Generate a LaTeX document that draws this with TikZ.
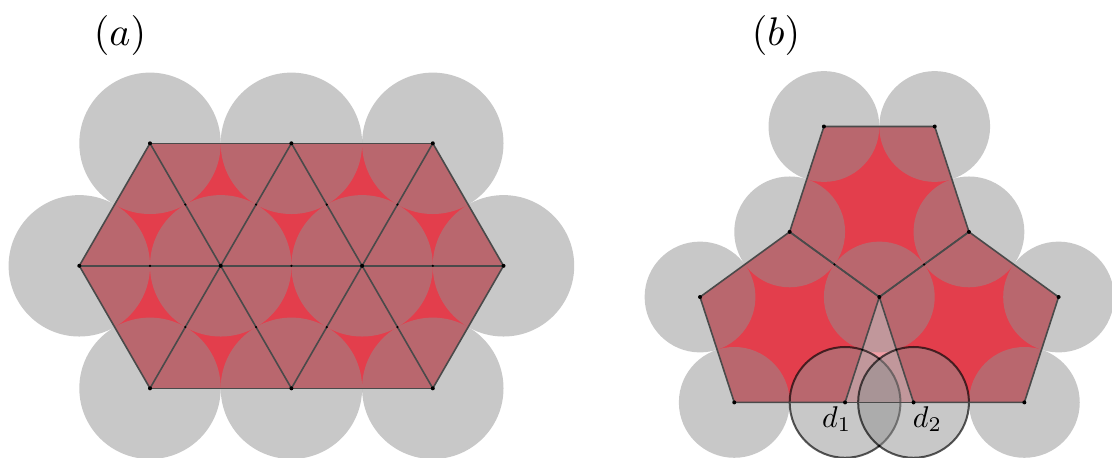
\documentclass[tikz,border=0pt]{standalone}
\usetikzlibrary{calc}
\definecolor{redfill}{HTML}{E33E4C}
\definecolor{diskgrey}{RGB}{145,145,145}
\definecolor{edgec}{HTML}{4A4A4A}
\tikzset{
  cellfill/.style={fill=redfill},
  gapfill/.style={fill=redfill, fill opacity=0.5},
  disk/.style={fill=diskgrey, fill opacity=0.5},
  markdisk/.style={disk, draw=black, draw opacity=0.65, line width=1pt},
  edge/.style={draw=edgec, line width=0.8pt, line join=round},
  vdot/.style={fill=black},
  lbl/.style={scale=1.5, anchor=base, inner sep=0pt},
  title/.style={scale=2, anchor=base, inner sep=0pt},
}
\begin{document}
\begin{tikzpicture}[x=0.5pt,y=-0.5pt]
\useasboundingbox (0,0) rectangle (1112,457);
% ---------- (a) ----------
\coordinate (t1) at (150,143.3);
\coordinate (t2) at (291.4,143.3);
\coordinate (t3) at (432.8,143.3);
\coordinate (m1) at (79.3,265.8);
\coordinate (m2) at (220.7,265.8);
\coordinate (m3) at (362.1,265.8);
\coordinate (m4) at (503.5,265.8);
\coordinate (b1) at (150,388.3);
\coordinate (b2) at (291.4,388.3);
\coordinate (b3) at (432.8,388.3);
\fill[cellfill] (t1)--(t3)--(m4)--(b3)--(b1)--(m1)--cycle;
\foreach \p in {t1,t2,t3,m1,m2,m3,m4,b1,b2,b3}
  \fill[disk] (\p) circle (70.7);
\draw[edge] (t1)--(t3) (m1)--(m4) (b1)--(b3);
\draw[edge] (m1)--(t1)--(m2)--(t2)--(m3)--(t3)--(m4);
\draw[edge] (m1)--(b1)--(m2)--(b2)--(m3)--(b3)--(m4);
\foreach \p in {t1,t2,t3,m1,m2,m3,m4,b1,b2,b3}
  \fill[vdot] (\p) circle (2);
\foreach \p/\q in {t1/m2,m2/t2,t2/m3,m3/t3,m1/m2,m2/m3,m3/m4,b1/m2,m2/b2,b2/m3,m3/b3}
  \fill[vdot] ($(\p)!0.5!(\q)$) circle (1.2);
\node[title] (la) at (120,45) {$(a)$};
% ---------- (b) ----------
\coordinate (C) at (879.3,297);
\coordinate (A1) at (789.66,231.87);
\coordinate (A2) at (968.94,231.87);
\coordinate (T1) at (823.9,126.49);
\coordinate (T2) at (934.7,126.49);
\coordinate (L1) at (700.02,297);
\coordinate (L2) at (734.26,402.38);
\coordinate (D1) at (845.06,402.38);
\coordinate (R1) at (1058.58,297);
\coordinate (R2) at (1024.34,402.38);
\coordinate (D2) at (913.54,402.38);
\coordinate (X1) at (879.3,358.83);
\coordinate (X2) at (879.3,445.93);
\fill[cellfill] (C)--(A1)--(T1)--(T2)--(A2)--cycle;
\fill[cellfill] (C)--(A1)--(L1)--(L2)--(D1)--cycle;
\fill[cellfill] (C)--(A2)--(R1)--(R2)--(D2)--cycle;
\fill[gapfill] (C)--(D1)--(D2)--cycle;
\foreach \p in {C,A1,A2,T1,T2,L1,L2,R1,R2}
  \fill[disk] (\p) circle (55.4);
\path[markdisk] (D1) circle (55.4);
\path[markdisk] (D2) circle (55.4);
\draw[edge] (C)--(A1)--(T1)--(T2)--(A2)--cycle;
\draw[edge] (C)--(A1)--(L1)--(L2)--(D1)--cycle;
\draw[edge] (C)--(A2)--(R1)--(R2)--(D2)--cycle;
\draw[edge] (D1)--(D2);
\foreach \p in {C,A1,A2,T1,T2,L1,L2,D1,R1,R2,D2}
  \fill[vdot] (\p) circle (2);
\foreach \p/\q in {C/A1,C/A2,C/D1,C/D2}
  \fill[vdot] ($(\p)!0.5!(\q)$) circle (1.2);
\fill[vdot] (X1) circle (1.2);
\fill[vdot] (X2) circle (1.2);
\node[title] (lb) at (776,45) {$(b)$};
\node[lbl] (ld1) at (836.7,427) {$d_1$};
\node[lbl] (ld2) at (927.5,427) {$d_2$};
\end{tikzpicture}
\end{document}
